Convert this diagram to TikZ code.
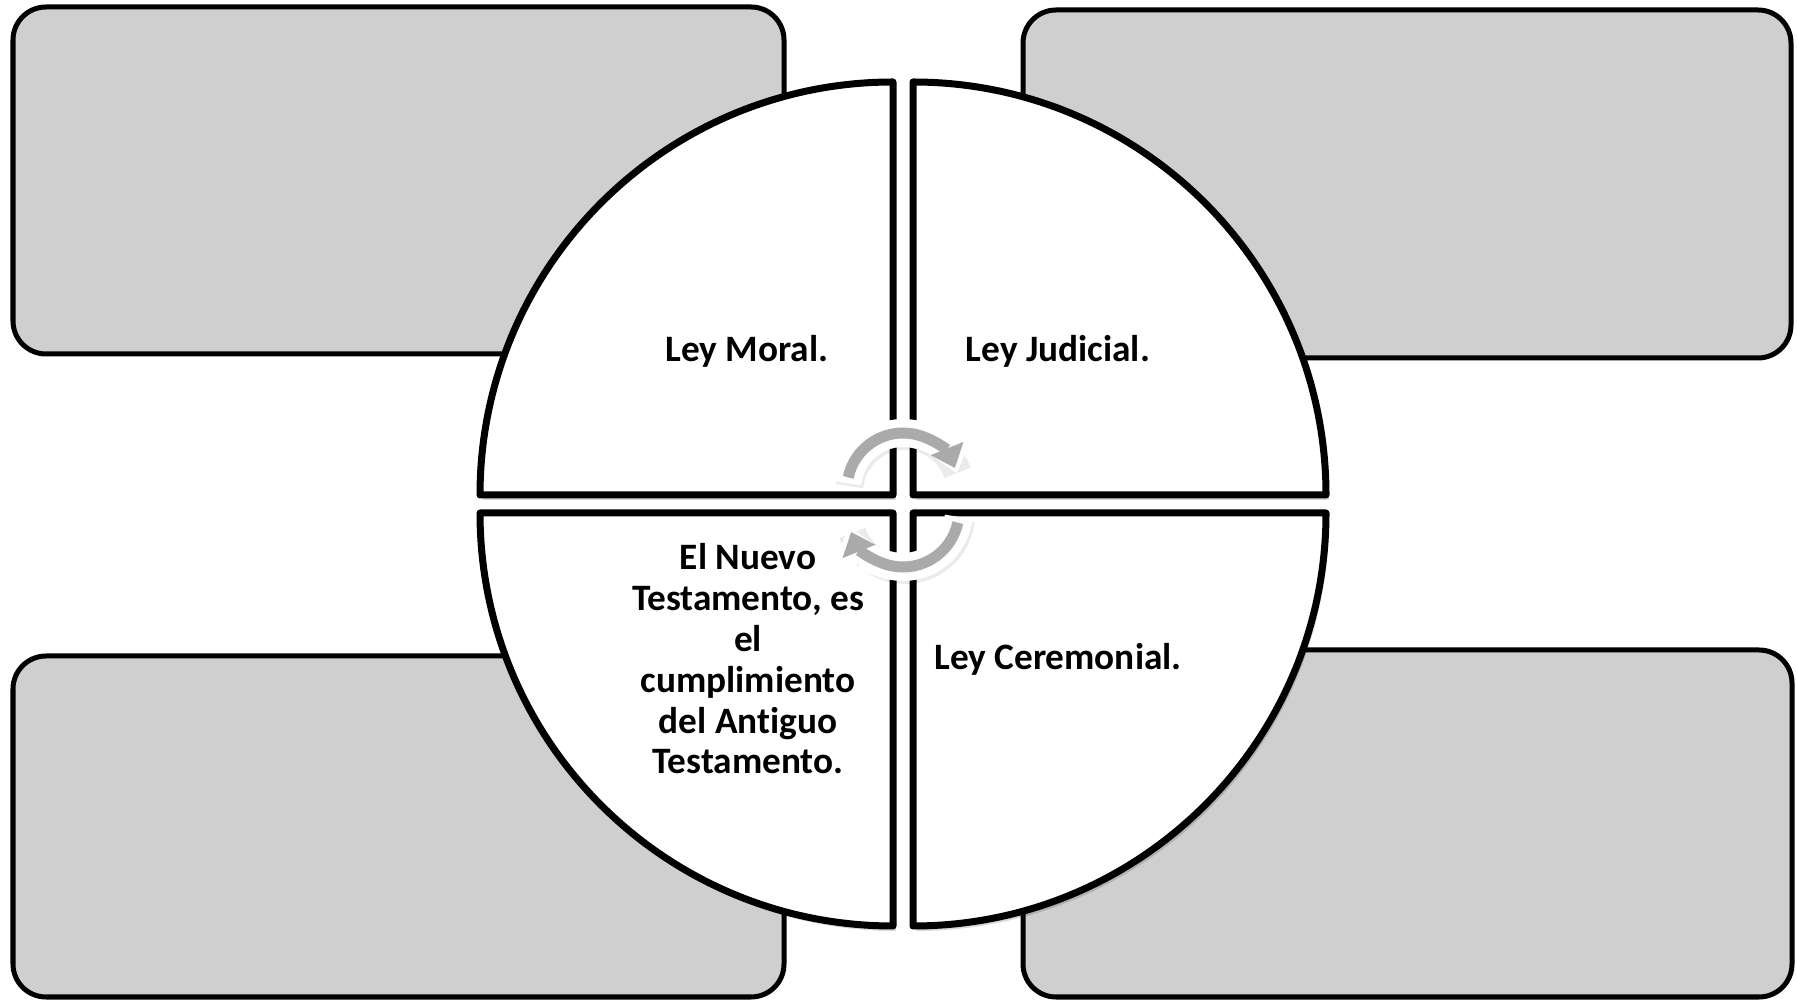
\documentclass[tikz,border=0pt]{standalone}
\usepackage{fontspec}
\setmainfont{Carlito}[Ligatures=NoCommon]
\usetikzlibrary{arrows.meta}
\definecolor{boxgray}{RGB}{207,207,207}
\definecolor{arrgray}{RGB}{170,170,170}
\begin{document}
\begin{tikzpicture}[x=0.01cm,y=0.01cm,
  box/.style={draw=black, line width=0.5mm, fill=boxgray, rounded corners=0.33cm},
  quad/.style={draw=black, line width=0.7mm, fill=white, line join=round},
  qshadow/.style={fill=black, opacity=0.15},
  lbl/.style={font=\fontsize{10.6pt}{11.6pt}\selectfont\bfseries, inner sep=0pt, align=center},
  arrshadow/.style={draw=black, opacity=0.08, line width=2.8mm},
  arrout/.style={draw=white, line width=2.8mm, -{Triangle[width=5.8mm,length=3.8mm]}},
  arrin/.style={draw=arrgray, line width=1.1mm, -{Triangle[width=3.4mm,length=2.1mm]}}
]
\useasboundingbox (0,0) rectangle (1797,1000);
% boxes
\draw[box] (13,646) rectangle (784,993);
\draw[box] (1023,642) rectangle (1791,990);
\draw[box] (13,3) rectangle (784,344);
\draw[box] (1023,3) rectangle (1792,350);
% quadrant shadows
\fill[qshadow] (896,500) -- (483,500) arc[start angle=180, end angle=90, radius=413] -- cycle;
\fill[qshadow] (916,500) -- (916,913) arc[start angle=90, end angle=0, radius=413] -- cycle;
\fill[qshadow] (916,482) -- (1329,482) arc[start angle=0, end angle=-90, radius=413] -- cycle;
\fill[qshadow] (896,482) -- (896,69) arc[start angle=270, end angle=180, radius=413] -- cycle;
% quadrants
\draw[quad] (893,505) -- (480,505) arc[start angle=180, end angle=90, radius=413] -- cycle;
\draw[quad] (913,505) -- (913,918) arc[start angle=90, end angle=0, radius=413] -- cycle;
\draw[quad] (913,487) -- (1326,487) arc[start angle=0, end angle=-90, radius=413] -- cycle;
\draw[quad] (893,487) -- (893,74) arc[start angle=270, end angle=180, radius=413] -- cycle;
% circular arrows
\draw[arrshadow] ([shift={(174:56)}]905,508) arc[start angle=174, end angle=20, radius=56];
\draw[arrout] ([shift={(174:56)}]903,511) arc[start angle=174, end angle=16, radius=56];
\draw[arrin] ([shift={(168:56)}]903,511) arc[start angle=168, end angle=22, radius=56];
\draw[arrshadow] ([shift={(-6:56)}]905,486) arc[start angle=-6, end angle=-160, radius=56];
\draw[arrout] ([shift={(-6:56)}]903,489) arc[start angle=-6, end angle=-164, radius=56];
\draw[arrin] ([shift={(-12:56)}]903,489) arc[start angle=-12, end angle=-158, radius=56];
% labels
\node[lbl, anchor=base] (moral) at (747,638) {Ley Moral.};
\node[lbl, anchor=base] (judicial) at (1058,638) {Ley Judicial.};
\node[lbl, anchor=base] (ceremonial) at (1058,330) {Ley Ceremonial.};
\node[lbl, anchor=north] (nuevo) at (748,457) {El Nuevo\\Testamento, es\\el\\cumplimiento\\del Antiguo\\Testamento.};
\end{tikzpicture}
\end{document}
